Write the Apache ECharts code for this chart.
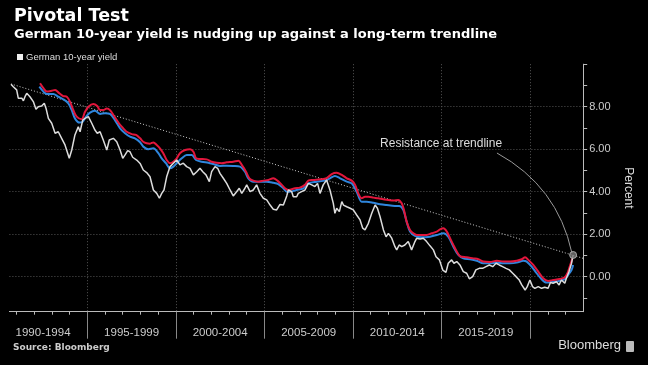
<!DOCTYPE html>
<html><head><meta charset="utf-8">
<script src="https://cdn.jsdelivr.net/npm/echarts@6/dist/echarts.min.js"></script>
<style>html,body{margin:0;padding:0;background:#000;}#c{width:648px;height:365px;}</style>
</head><body><div id="c"></div>
<script>
// ---- data ----
const yieldYears = [1990.69,1990.82,1990.92,1991.01,1991.10,1991.20,1991.30,1991.39,1991.48,1991.58,1991.76,1991.95,1992.10,1992.23,1992.42,1992.57,1992.67,1992.80,1992.99,1993.18,1993.36,1993.55,1993.74,1993.98,1994.12,1994.30,1994.49,1994.59,1994.74,1994.87,1995.06,1995.25,1995.43,1995.56,1995.72,1995.90,1996.10,1996.24,1996.47,1996.66,1996.85,1997.00,1997.13,1997.28,1997.41,1997.56,1997.79,1997.98,1998.16,1998.35,1998.54,1998.73,1998.92,1999.07,1999.20,1999.33,1999.48,1999.67,1999.86,2000.05,2000.23,2000.42,2000.61,2000.80,2000.99,2001.18,2001.36,2001.52,2001.70,2001.89,2002.02,2002.21,2002.36,2002.49,2002.68,2002.87,2003.06,2003.24,2003.43,2003.58,2003.72,2003.90,2004.00,2004.19,2004.37,2004.56,2004.75,2004.94,2005.13,2005.32,2005.50,2005.69,2005.88,2006.07,2006.26,2006.35,2006.54,2006.63,2006.82,2006.91,2007.10,2007.29,2007.48,2007.67,2007.85,2008.00,2008.14,2008.32,2008.51,2008.70,2008.89,2008.98,2009.08,2009.23,2009.37,2009.46,2009.65,2009.84,2010.02,2010.21,2010.40,2010.55,2010.68,2010.87,2011.06,2011.25,2011.38,2011.53,2011.72,2011.87,2012.00,2012.19,2012.37,2012.47,2012.61,2012.75,2012.93,2013.12,2013.31,2013.50,2013.60,2013.79,2013.97,2014.16,2014.35,2014.54,2014.69,2014.88,2015.07,2015.25,2015.38,2015.57,2015.70,2015.86,2016.04,2016.23,2016.42,2016.57,2016.76,2016.94,2017.13,2017.32,2017.51,2017.70,2017.89,2018.08,2018.26,2018.45,2018.64,2018.83,2019.02,2019.21,2019.39,2019.53,2019.72,2019.84,2019.99,2020.14,2020.27,2020.46,2020.65,2020.83,2021.02,2021.15,2021.30,2021.49,2021.64,2021.77,2021.96,2022.05,2022.20,2022.34,2022.43];
const yieldVals = [9.06,8.94,9.02,8.79,8.40,8.32,8.40,8.28,8.47,8.63,8.47,8.24,7.88,8.00,8.03,8.16,7.92,7.45,7.22,6.75,6.82,6.51,6.20,5.57,5.96,6.67,7.06,6.82,7.37,7.45,7.53,7.22,6.90,6.75,6.82,6.43,5.96,6.43,6.51,6.35,5.96,5.57,5.73,5.93,5.88,5.62,5.49,5.33,5.02,4.90,4.70,4.08,3.92,3.69,3.92,4.08,4.70,5.18,5.34,5.49,5.26,5.34,5.18,5.10,4.79,4.94,5.10,4.94,4.79,4.47,4.94,5.18,5.10,4.86,4.63,4.39,4.08,3.80,4.00,4.16,3.92,4.16,4.32,4.00,4.08,4.32,3.92,3.69,3.61,3.37,3.17,3.14,3.40,3.37,3.80,4.08,4.00,3.76,3.76,3.92,4.00,4.08,4.39,4.32,4.24,4.39,3.92,4.32,4.55,4.08,3.45,2.98,3.22,3.06,3.53,3.37,3.29,3.22,3.14,2.90,2.67,2.28,2.20,2.51,2.98,3.37,3.22,2.82,2.20,1.88,2.04,1.81,1.41,1.26,1.49,1.41,1.49,1.65,1.26,1.65,1.81,1.77,1.81,1.65,1.45,1.26,0.94,0.79,0.31,0.20,0.63,0.79,0.63,0.71,0.55,0.24,0.16,-0.10,0.00,0.32,0.39,0.39,0.47,0.55,0.47,0.63,0.55,0.47,0.39,0.32,0.16,0.00,-0.16,-0.39,-0.63,-0.47,-0.16,-0.47,-0.55,-0.47,-0.55,-0.50,-0.55,-0.28,-0.31,-0.24,-0.39,-0.16,-0.31,-0.08,0.24,0.63,1.02];

const redYears = [1992.33,1992.52,1992.71,1992.99,1993.18,1993.42,1993.64,1993.84,1994.02,1994.21,1994.40,1994.68,1994.87,1995.06,1995.34,1995.56,1995.72,1995.90,1996.10,1996.28,1996.47,1996.66,1996.85,1997.03,1997.22,1997.51,1997.75,1997.98,1998.16,1998.35,1998.54,1998.73,1998.92,1999.10,1999.29,1999.48,1999.67,1999.86,2000.05,2000.23,2000.52,2000.80,2000.99,2001.14,2001.36,2001.74,2002.02,2002.30,2002.59,2002.87,2003.24,2003.53,2003.72,2003.96,2004.15,2004.37,2004.66,2004.94,2005.22,2005.50,2005.73,2005.98,2006.16,2006.35,2006.73,2007.00,2007.29,2007.48,2007.76,2008.14,2008.51,2008.80,2009.08,2009.37,2009.65,2009.93,2010.12,2010.30,2010.49,2010.68,2010.87,2011.15,2011.43,2011.71,2012.00,2012.28,2012.56,2012.75,2012.88,2013.03,2013.22,2013.41,2013.60,2014.16,2014.45,2014.73,2014.92,2015.11,2015.30,2015.48,2015.67,2015.86,2016.04,2016.42,2016.80,2017.08,2017.36,2017.74,2018.12,2018.49,2018.87,2019.25,2019.53,2019.72,2019.90,2020.18,2020.46,2020.74,2021.02,2021.30,2021.68,2021.96,2022.11,2022.24,2022.39];
const redVals = [9.10,8.87,8.71,8.75,8.79,8.63,8.50,8.47,8.24,7.84,7.53,7.41,7.76,8.00,8.13,8.03,7.84,7.84,7.92,7.84,7.61,7.37,7.14,6.98,6.82,6.71,6.67,6.51,6.35,6.28,6.26,6.32,6.20,6.04,5.81,5.49,5.34,5.41,5.57,5.81,5.96,6.00,5.88,5.57,5.54,5.52,5.41,5.36,5.34,5.38,5.41,5.46,5.26,4.94,4.63,4.52,4.47,4.52,4.55,4.63,4.52,4.32,4.16,4.08,4.16,4.19,4.32,4.52,4.55,4.58,4.63,4.83,4.89,4.79,4.63,4.52,4.32,3.92,3.69,3.76,3.76,3.72,3.69,3.64,3.61,3.58,3.61,3.45,3.14,2.59,2.20,2.04,1.96,1.96,2.04,2.12,2.23,2.28,2.12,1.81,1.49,1.18,0.97,0.91,0.86,0.82,0.71,0.69,0.75,0.71,0.71,0.75,0.82,0.91,0.79,0.55,0.24,-0.08,-0.20,-0.16,-0.11,-0.03,0.16,0.47,0.86];

const blueYears = [1992.29,1992.52,1992.71,1993.08,1993.36,1993.64,1993.93,1994.12,1994.30,1994.55,1994.74,1994.93,1995.15,1995.43,1995.72,1996.00,1996.28,1996.56,1996.85,1997.13,1997.41,1997.69,1997.98,1998.16,1998.44,1998.73,1999.01,1999.20,1999.44,1999.67,1999.86,2000.05,2000.33,2000.61,2000.90,2001.14,2001.46,2001.83,2002.11,2002.49,2002.87,2003.24,2003.62,2003.90,2004.09,2004.37,2004.75,2005.13,2005.50,2005.78,2006.07,2006.26,2006.44,2006.82,2007.20,2007.48,2007.95,2008.42,2008.70,2008.98,2009.27,2009.65,2009.93,2010.21,2010.49,2010.77,2011.15,2011.53,2011.90,2012.37,2012.61,2012.84,2013.03,2013.22,2013.50,2013.88,2014.35,2014.73,2015.11,2015.38,2015.67,2015.95,2016.23,2016.61,2016.99,2017.36,2017.74,2018.12,2018.49,2018.87,2019.25,2019.62,2019.81,2020.09,2020.37,2020.65,2020.93,2021.30,2021.68,2021.96,2022.15,2022.34,2022.43];
const blueVals = [8.94,8.71,8.60,8.60,8.47,8.35,8.16,7.84,7.45,7.25,7.29,7.53,7.72,7.81,7.66,7.69,7.66,7.37,6.98,6.75,6.59,6.51,6.33,6.12,6.00,6.04,5.81,5.57,5.34,5.10,5.18,5.34,5.57,5.73,5.73,5.49,5.41,5.36,5.30,5.21,5.22,5.21,5.18,4.94,4.63,4.47,4.47,4.47,4.42,4.36,4.16,4.00,4.00,4.08,4.16,4.39,4.47,4.52,4.63,4.74,4.63,4.47,4.39,4.00,3.53,3.53,3.48,3.41,3.37,3.33,3.33,3.14,2.59,2.12,1.92,1.85,1.88,1.96,2.04,1.88,1.41,1.02,0.86,0.82,0.75,0.63,0.63,0.66,0.63,0.63,0.66,0.75,0.71,0.47,0.16,-0.12,-0.28,-0.24,-0.19,-0.12,0.08,0.31,0.55];

const trendYears = [1990.69, 2023.0];
const trendVals = [9.07, 0.86];
const endPoint = [2022.43, 1.02];

const periodLabels = ['1990-1994','1995-1999','2000-2004','2005-2009','2010-2014','2015-2019'];
const periodCenters = [1992.5,1997.5,2002.5,2007.5,2012.5,2017.5];
const periodBounds = [1995,2000,2005,2010,2015,2020];
const yearTicks = [1991,1992,1993,1994,1996,1997,1998,1999,2001,2002,2003,2004,2006,2007,2008,2009,2011,2012,2013,2014,2016,2017,2018,2019,2021,2022];
const yLabelValues = [0,2,4,6,8];
const yTickValues = [-1,0,1,2,3,4,5,6,7,8,9,10];

const annoText = 'Resistance at trendline';
const annoTextAt = [2011.53, 6.24];
const annoCurve = [[2018.13, 5.82], [2021.55, 4.25], [2022.36, 1.12]];

const titleText = 'Pivotal Test';
const subtitleText = 'German 10-year yield is nudging up against a long-term trendline';
const seriesName = 'German 10-year yield';
const sourceText = 'Source: Bloomberg';

// ---- chart ----
const X_MIN = 1990.6, X_MAX = 2023.0, Y_MIN = -1.65, Y_MAX = 10;
const pairs = (xs, ys) => xs.map((x, i) => [x, ys[i]]);
const FONT = 'Liberation Sans';
const BOLD = 'DejaVu Sans';

const chart = echarts.init(document.getElementById('c'), null, {renderer: 'canvas'});
const option = {
  backgroundColor: '#000',
  animation: false,
  title: [
    {text: titleText, left: 9, top: 2, textStyle: {color: '#fff', fontSize: 17.5, fontWeight: 'bold', fontFamily: BOLD}},
    {text: subtitleText, left: 9, top: 23, textStyle: {color: '#fff', fontSize: 13, fontWeight: 'bold', fontFamily: BOLD}}
  ],
  legend: {
    data: [seriesName], left: 12, top: 47, icon: 'rect', itemWidth: 6, itemHeight: 6, itemGap: 4,
    textStyle: {color: '#ddd', fontSize: 9.5, fontFamily: FONT, padding: [0, 0, 0, -2]}
  },
  grid: {left: 9.4, right: 64.8, top: 64.2, bottom: 53.3, outerBoundsMode: 'none', containLabel: false},
  xAxis: [
    {type: 'value', min: X_MIN, max: X_MAX, position: 'bottom',
     axisLine: {show: true, onZero: false, lineStyle: {color: '#bbb', width: 1}},
     axisTick: {show: true, customValues: periodBounds, length: 27, lineStyle: {color: '#888'}},
     axisLabel: {show: false},
     splitLine: {show: true, lineStyle: {type: [1, 2], color: '#555'}}},
    {type: 'value', min: X_MIN, max: X_MAX, position: 'bottom',
     axisLine: {show: false, onZero: false},
     axisTick: {show: true, customValues: yearTicks, length: 3, lineStyle: {color: '#bbb'}},
     axisLabel: {show: true, customValues: periodCenters, margin: 15, color: '#ccc', fontSize: 11.5, fontFamily: FONT,
       formatter: v => { const i = periodCenters.indexOf(v); return i >= 0 ? periodLabels[i] : ''; }},
     splitLine: {show: false}}
  ],
  yAxis: [
    {type: 'value', min: Y_MIN, max: Y_MAX, position: 'right',
     axisLine: {show: true, onZero: false, lineStyle: {color: '#bbb'}},
     axisTick: {show: false, customValues: yLabelValues},
     axisLabel: {show: true, customValues: yLabelValues, margin: 6, color: '#ccc', fontSize: 11, fontFamily: FONT,
       formatter: v => v.toFixed(2)},
     splitLine: {show: true, lineStyle: {type: [1, 2], color: '#555'}},
     name: 'Percent', nameLocation: 'middle', nameGap: 39, nameRotate: -90,
     nameTextStyle: {color: '#ddd', fontSize: 12, fontFamily: FONT}},
    {type: 'value', min: Y_MIN, max: Y_MAX, position: 'right',
     axisLine: {show: false, onZero: false},
     axisTick: {show: true, customValues: yTickValues, length: 4, lineStyle: {color: '#bbb'}},
     axisLabel: {show: false}, splitLine: {show: false}}
  ],
  series: [
    {name: 'Trendline', type: 'line', data: pairs(trendYears, trendVals), symbol: 'none', silent: true,
     lineStyle: {color: '#ccc', width: 1, type: [1, 2]}, z: 2},
    {name: 'Blue', type: 'line', data: pairs(blueYears, blueVals), symbol: 'none', smooth: 0.3,
     lineStyle: {color: '#2f86dd', width: 2}, itemStyle: {color: '#2f86dd'}, z: 3},
    {name: 'Red', type: 'line', data: pairs(redYears, redVals), symbol: 'none', smooth: 0.3,
     lineStyle: {color: '#e2163c', width: 2}, itemStyle: {color: '#e2163c'}, z: 4},
    {name: seriesName, type: 'line', data: pairs(yieldYears, yieldVals), symbol: 'none',
     lineStyle: {color: '#dcdcdc', width: 1.5}, itemStyle: {color: '#eee'}, z: 5},
    {name: 'End', type: 'scatter', data: [endPoint], symbol: 'circle', symbolSize: 7,
     itemStyle: {color: '#777', borderColor: '#bbb', borderWidth: 1}, z: 6}
  ]
};
chart.setOption(option);

const px = p => chart.convertToPixel({xAxisIndex: 0, yAxisIndex: 0}, p);
const t = px(annoTextAt);
const c0 = px(annoCurve[0]), c1 = px(annoCurve[1]), c2 = px(annoCurve[2]);
chart.setOption({
  graphic: [
    {type: 'text', x: t[0], y: t[1], z: 20,
     style: {text: annoText, fill: '#ddd', font: '12px "Liberation Sans"', textVerticalAlign: 'middle'}},
    {type: 'bezierCurve', z: 20,
     shape: {x1: c0[0], y1: c0[1], cpx1: c1[0], cpy1: c1[1], x2: c2[0], y2: c2[1]},
     style: {stroke: '#999', lineWidth: 1, fill: null}},
    {type: 'text', left: 13, top: 343, z: 20,
     style: {text: sourceText, fill: '#ccc', font: 'bold 9px "DejaVu Sans"'}},
    {type: 'text', right: 27, top: 339, z: 20,
     style: {text: 'Bloomberg', fill: '#ddd', font: '13px "Liberation Sans"'}},
    {type: 'rect', right: 14, top: 341, z: 20,
     shape: {width: 8, height: 11, r: 1}, style: {fill: '#bbb'}}
  ]
});
</script></body></html>
